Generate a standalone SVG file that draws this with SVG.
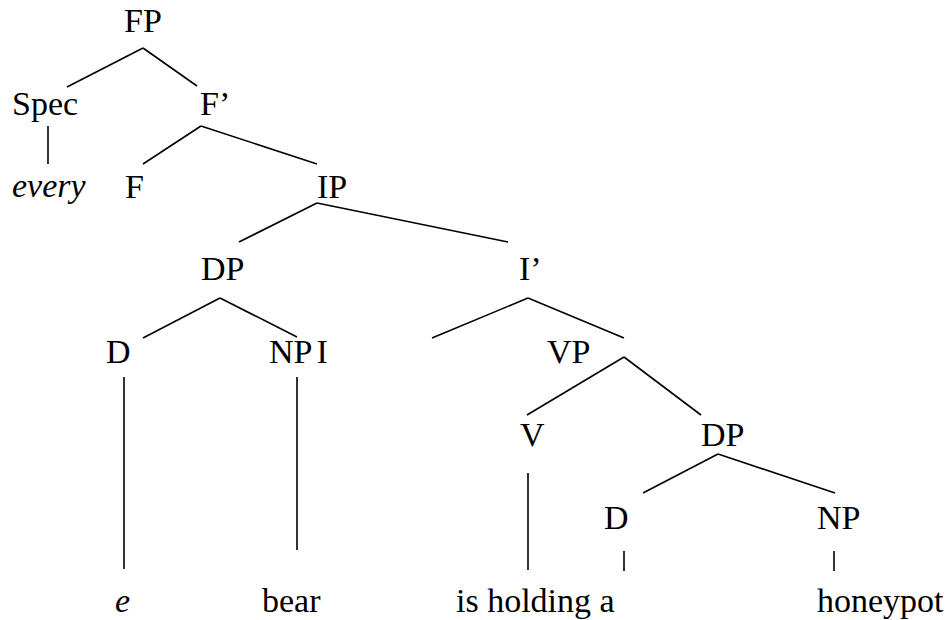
<svg xmlns="http://www.w3.org/2000/svg" width="949" height="620" viewBox="0 0 949 620">
<style>
.it{font-style:italic}
line{stroke:#000;stroke-width:1.6;stroke-linecap:butt}
</style>
<rect width="949" height="620" fill="#fff"/>
<g id="connectors">
<line x1="143" y1="48" x2="67" y2="87"/>
<line x1="143" y1="48" x2="197" y2="86"/>
<line x1="48" y1="126" x2="48" y2="164"/>
<line x1="201" y1="126" x2="143" y2="164"/>
<line x1="201" y1="126" x2="317" y2="164"/>
<line x1="317" y1="203" x2="239" y2="242"/>
<line x1="317" y1="203" x2="508" y2="242"/>
<line x1="220" y1="298" x2="143" y2="338"/>
<line x1="220" y1="298" x2="297" y2="337"/>
<line x1="528" y1="298" x2="432" y2="338"/>
<line x1="528" y1="298" x2="624" y2="338"/>
<line x1="624" y1="357" x2="527" y2="415"/>
<line x1="624" y1="357" x2="701" y2="415"/>
<line x1="718" y1="454" x2="643" y2="493"/>
<line x1="718" y1="454" x2="835" y2="493"/>
<line x1="124" y1="377" x2="124" y2="569"/>
<line x1="297" y1="377" x2="297" y2="550"/>
<line x1="528" y1="473" x2="528" y2="570"/>
<line x1="624" y1="551" x2="624" y2="571"/>
<line x1="834" y1="551" x2="834" y2="571"/>
</g>
<g font-family="Liberation Serif, serif" font-size="34" fill="#000">
<g id="FP"><text x="124" y="32">FP</text></g>
<g id="Spec"><text x="12" y="115">Spec</text></g>
<g id="Fbar"><text x="200" y="115">F’</text></g>
<g id="every"><text class="it" x="12" y="197">every</text></g>
<g id="F"><text x="125" y="198">F</text></g>
<g id="IP"><text x="317" y="198">IP</text></g>
<g id="DP1"><text x="201" y="280">DP</text></g>
<g id="Ibar"><text x="519" y="280">I’</text></g>
<g id="D1"><text x="106" y="363">D</text></g>
<g id="NPI"><text x="269" y="363">NP<tspan dx="4">I</tspan></text></g>
<g id="VP"><text x="547" y="363">VP</text></g>
<g id="V"><text x="520" y="446">V</text></g>
<g id="DP2"><text x="701" y="446">DP</text></g>
<g id="D2"><text x="604" y="529">D</text></g>
<g id="NP"><text x="817" y="529">NP</text></g>
<g id="e"><text class="it" x="115" y="612">e</text></g>
<g id="bear"><text x="262" y="612">bear</text></g>
<g id="isholding"><text x="456" y="612">is holding a</text></g>
<g id="honeypot"><text x="817" y="612">honeypot</text></g>
</g>
</svg>
